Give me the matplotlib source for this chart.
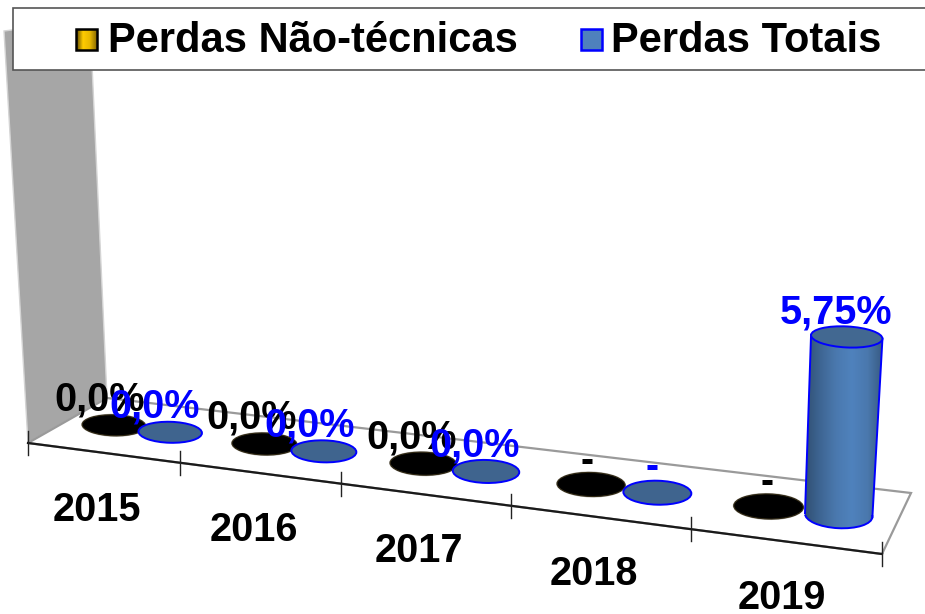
import numpy as np
import matplotlib
matplotlib.use("Agg")
import matplotlib.pyplot as plt
from matplotlib.patches import Ellipse, Polygon, Rectangle, PathPatch
from matplotlib.path import Path
from matplotlib.colors import LinearSegmentedColormap

plt.rcParams['font.family'] = ['Liberation Sans', 'DejaVu Sans']

categories = ['2015', '2016', '2017', '2018', '2019']
perdas_nao_tecnicas = [0.0, 0.0, 0.0, None, None]
perdas_totais = [0.0, 0.0, 0.0, None, 5.75]
labels_nao_tecnicas = ['0,0%', '0,0%', '0,0%', '-', '-']
labels_totais = ['0,0%', '0,0%', '0,0%', '-', '5,75%']
series_names = ['Perdas Não-técnicas', 'Perdas Totais']


def homography(src, dst):
    A = []
    for (u, v), (x, y) in zip(src, dst):
        A.append([u, v, 1, 0, 0, 0, -u * x, -v * x, -x])
        A.append([0, 0, 0, u, v, 1, -u * y, -v * y, -y])
    return np.linalg.svd(np.array(A, float))[2][-1].reshape(3, 3)


# Oblique floor of the fake-3D chart: (category position, depth) -> pixels
FL, FR, BR, BL = (28, 443), (882, 554), (911, 493), (107, 398)
TICK_X = [28, 180, 341, 511, 691, 882]
front = [(x, FL[1] + (x - FL[0]) * (FR[1] - FL[1]) / (FR[0] - FL[0])) for x in TICK_X]
H = homography([(i, 0) for i in range(6)] + [(5, 1), (0, 1)], front + [BR, BL])


def floor(u, v=0.0):
    p = H @ np.array([u, v, 1.0])
    return p[0] / p[2], p[1] / p[2]


fig = plt.figure(figsize=(9.25, 6.14), dpi=100)
ax = fig.add_axes([0, 0, 1, 1])
ax.set_xlim(0, 925)
ax.set_ylim(614, 0)
ax.axis('off')

# back wall
ax.add_patch(Polygon([(4, 31), (90, 20), (107, 398), FL], closed=True,
                     facecolor='#a6a6a6', edgecolor='#d4d4d4', lw=1, zorder=1))

# floor outline
ax.add_patch(Polygon([FL, FR, BR, BL], closed=True, facecolor='white',
                     edgecolor='#9a9a9a', lw=1.6, zorder=2))
ax.plot(*zip(FL, FR), color='#1a1a1a', lw=1.6, zorder=3)
for i in range(len(categories) + 1):
    x, y = floor(i)
    ax.plot([x, x], [y - 12, y + 12], color='#222222', lw=1, zorder=3)

FONT = dict(fontweight='bold', fontsize=28.5, ha='center', va='center')
DEPTH = 0.50
dx_black = [-14, -13, -12, -4, -1]
dy_black = [-26, -26, -26, -23, -24]
dx_blue = [-16, -14, -11, -5, -11]
dx_cat = [-6, -6, -6, -6, -3]
PX_PER_PCT = 31.0
cyl_cmap = LinearSegmentedColormap.from_list(
    'cyl', ['#2f4d6f', '#3d6491', '#4a78ad', '#4f82bd', '#4a78ad', '#36587f'])

for i, cat in enumerate(categories):
    # category label
    x0, y0 = floor(i + 0.5)
    ax.text(x0 + dx_cat[i], y0 + 57 - i * 0.1, cat, color='black', zorder=8, **FONT)

    w, h = 63.5 + 1.5 * i, 21 + 1.0 * i

    # series 1: zero-height discs
    cx, cy = floor(i + 0.31, DEPTH)
    ax.add_patch(Ellipse((cx, cy), w + 2, h + 2, angle=1.5, facecolor='#2a2416',
                         edgecolor='none', alpha=0.35, zorder=4))
    ax.add_patch(Ellipse((cx, cy), w, h, angle=1.5, facecolor='black',
                         edgecolor='#2f2712', lw=0.8, zorder=4))
    ax.text(cx + dx_black[i], cy + dy_black[i], labels_nao_tecnicas[i], color='black',
            zorder=7, **FONT)

    # series 2: discs, or a cylinder where there is a value
    bx, by = floor(i + 0.69, DEPTH)
    val = perdas_totais[i] or 0.0
    if val > 0:
        tx, ty = bx + 1.4 * val, by - PX_PER_PCT * val
        a = np.radians(3)
        rt = (w / 2 + 1) * np.array([np.cos(a), np.sin(a)])
        rb = (w / 2 - 1) * np.array([np.cos(a), np.sin(a)])
        top_l, top_r = (tx - rt[0], ty - rt[1]), (tx + rt[0], ty + rt[1])
        bot_l, bot_r = (bx - rb[0], by - rb[1]), (bx + rb[0], by + rb[1])
        bottom = Ellipse((bx, by), 2 * np.hypot(*rb), h + 1, angle=3, facecolor='none',
                         edgecolor='#0000ff', lw=1.4, zorder=5)
        outer = Path.make_compound_path(
            Path([top_l, top_r, bot_r, bot_l, top_l],
                 [Path.MOVETO, Path.LINETO, Path.LINETO, Path.LINETO, Path.CLOSEPOLY]),
            bottom.get_path().transformed(bottom.get_patch_transform()))
        im = ax.imshow(np.linspace(0, 1, 256)[None, :], cmap=cyl_cmap, aspect='auto',
                       extent=(bot_l[0] - 2, top_r[0] + 1, by + 20, ty), zorder=5)
        body = PathPatch(outer, facecolor='none', edgecolor='none', zorder=5)
        ax.add_patch(body)
        im.set_clip_path(body)
        ax.add_patch(bottom)
        bottom.set_clip_path(Rectangle((bot_l[0] - 3, by), w + 8, h, transform=ax.transData))
        ax.plot(*zip(top_l, bot_l), color='#0000ff', lw=1.4, zorder=6)
        ax.plot(*zip(top_r, bot_r), color='#0000ff', lw=1.4, zorder=6)
        ax.add_patch(Ellipse((tx, ty), 2 * np.hypot(*rt), h - 4, angle=3, facecolor='#426891',
                             edgecolor='#0000ff', lw=1.4, zorder=6))
        ax.text(tx + dx_blue[i], ty - 24, labels_totais[i], color='#0000ff', zorder=8, **FONT)
    else:
        ax.add_patch(Ellipse((bx, by), w, h, angle=1.5, facecolor='#3f648e',
                             edgecolor='#0000ff', lw=1.4, zorder=5))
        ax.text(bx + dx_blue[i], by - 25.5, labels_totais[i], color='#0000ff', zorder=8, **FONT)

# legend box
ax.add_patch(Rectangle((13, 8), 920, 62, facecolor='white', edgecolor='#555555',
                       lw=1.2, zorder=9))
gold = LinearSegmentedColormap.from_list('gold', ['#5a4500', '#ffcc00', '#e8b800', '#8a6b00'])
blue = LinearSegmentedColormap.from_list('blue', ['#4f81bd', '#4f81bd'])
for (sx, cmap, ec, name, tx) in [(76, gold, 'black', series_names[0], 108),
                                 (581, blue, '#0000ff', series_names[1], 611)]:
    ax.imshow(np.linspace(0, 1, 64)[None, :], cmap=cmap, aspect='auto',
              extent=(sx, sx + 21, 50, 29), zorder=10)
    ax.add_patch(Rectangle((sx, 29), 21, 21, facecolor='none', edgecolor=ec, lw=1.8, zorder=11))
    ax.text(tx, 40.5, name, color='black', fontweight='bold', fontsize=30,
            ha='left', va='center', zorder=11)

ax.set_xlim(0, 925)
ax.set_ylim(614, 0)
fig.savefig('out.png', dpi=100)
